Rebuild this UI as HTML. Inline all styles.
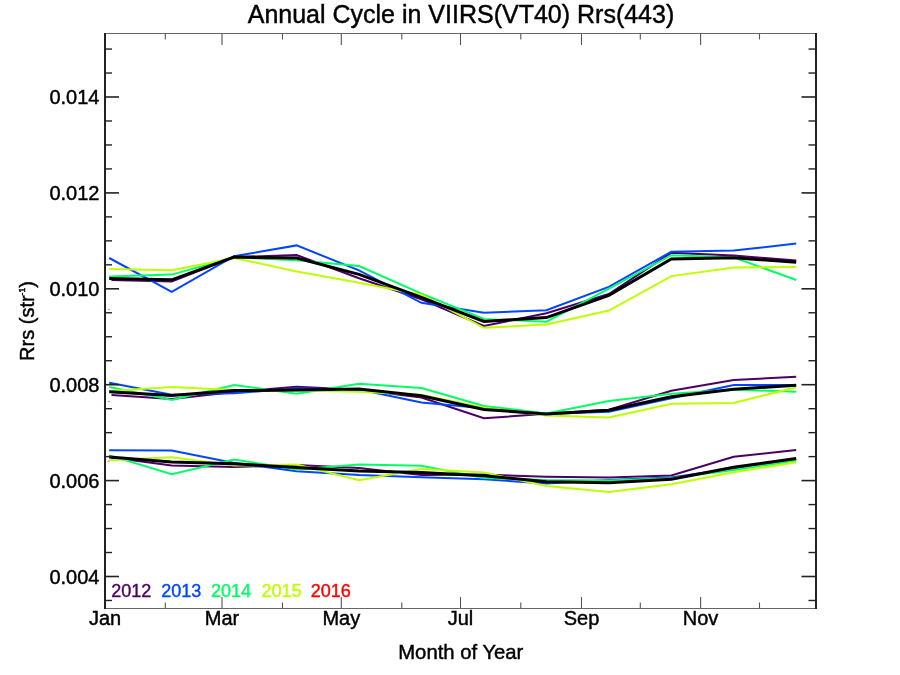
<!DOCTYPE html>
<html><head><meta charset="utf-8"><title>Annual Cycle in VIIRS(VT40) Rrs(443)</title>
<style>html,body{margin:0;padding:0;background:#fff;width:900px;height:675px;overflow:hidden}svg{display:block} text.k{filter:grayscale(1);stroke:#000;stroke-width:0.45px} text.c{filter:opacity(0.999);stroke-width:0.4px}</style>
</head><body>
<svg width="900" height="675" viewBox="0 0 900 675">
<rect width="900" height="675" fill="#fff"/>
<polyline points="111.5,280.0 171.7,281.6 234.1,257.0 296.6,255.1 359.0,278.3 421.4,299.3 483.9,326.0 546.4,313.3 608.8,294.0 671.3,252.8 733.7,255.6 796.2,260.4" fill="none" stroke="rgb(76,0,100)" stroke-width="2" stroke-linejoin="miter" stroke-linecap="butt"/>
<polyline points="109.2,258.0 171.7,291.8 234.1,256.2 296.6,245.4 359.0,270.4 421.4,302.8 483.9,312.8 546.4,310.2 608.8,286.9 671.3,251.7 733.7,250.6 796.2,243.6" fill="none" stroke="rgb(0,70,255)" stroke-width="2" stroke-linejoin="miter" stroke-linecap="butt"/>
<polyline points="109.2,276.5 171.7,274.6 234.1,257.3 296.6,260.3 359.0,266.0 421.4,293.6 483.9,319.0 546.4,321.7 608.8,288.6 671.3,255.2 733.7,257.4 796.2,280.0" fill="none" stroke="rgb(0,255,100)" stroke-width="2" stroke-linejoin="miter" stroke-linecap="butt"/>
<polyline points="109.2,268.9 171.7,270.3 234.1,258.0 296.6,271.5 359.0,282.7 421.4,294.8 483.9,327.8 546.4,324.4 608.8,310.6 671.3,276.1 733.7,267.4 796.2,266.9" fill="none" stroke="rgb(190,255,0)" stroke-width="2" stroke-linejoin="miter" stroke-linecap="butt"/>
<polyline points="109.2,278.6 171.7,279.8 234.1,257.1 296.6,258.0 359.0,274.4 421.4,297.3 483.9,321.4 546.4,317.6 608.8,295.4 671.3,258.9 733.7,257.8 796.2,262.2" fill="none" stroke="#000" stroke-width="3.0" stroke-linejoin="miter" stroke-linecap="butt"/>
<polyline points="111.5,395.0 171.7,399.0 234.1,392.0 296.6,386.7 359.0,389.7 421.4,397.6 483.9,418.3 546.4,413.7 608.8,409.8 671.3,390.8 733.7,380.0 796.2,376.8" fill="none" stroke="rgb(76,0,100)" stroke-width="2" stroke-linejoin="miter" stroke-linecap="butt"/>
<polyline points="109.2,382.8 171.7,394.7 234.1,393.2 296.6,388.3 359.0,389.5 421.4,402.4 483.9,408.3 546.4,414.0 608.8,411.8 671.3,398.3 733.7,385.0 796.2,385.0" fill="none" stroke="rgb(0,70,255)" stroke-width="2" stroke-linejoin="miter" stroke-linecap="butt"/>
<polyline points="109.2,387.0 171.7,400.0 234.1,385.0 296.6,393.8 359.0,383.7 421.4,388.0 483.9,405.9 546.4,413.4 608.8,401.1 671.3,393.7 733.7,389.7 796.2,391.7" fill="none" stroke="rgb(0,255,100)" stroke-width="2" stroke-linejoin="miter" stroke-linecap="butt"/>
<polyline points="109.2,391.0 171.7,386.9 234.1,390.0 296.6,390.6 359.0,391.7 421.4,394.7 483.9,407.7 546.4,415.4 608.8,417.6 671.3,403.7 733.7,403.0 796.2,387.2" fill="none" stroke="rgb(190,255,0)" stroke-width="2" stroke-linejoin="miter" stroke-linecap="butt"/>
<polyline points="109.2,391.7 171.7,395.4 234.1,390.6 296.6,390.0 359.0,389.0 421.4,395.8 483.9,409.4 546.4,414.1 608.8,410.2 671.3,396.7 733.7,389.2 796.2,385.2" fill="none" stroke="#000" stroke-width="3.0" stroke-linejoin="miter" stroke-linecap="butt"/>
<polyline points="111.5,457.5 171.7,465.6 234.1,467.1 296.6,465.0 359.0,467.9 421.4,475.1 483.9,474.6 546.4,476.7 608.8,477.6 671.3,475.5 733.7,456.7 796.2,450.0" fill="none" stroke="rgb(76,0,100)" stroke-width="2" stroke-linejoin="miter" stroke-linecap="butt"/>
<polyline points="109.2,450.2 171.7,450.5 234.1,463.0 296.6,471.2 359.0,475.0 421.4,477.3 483.9,479.2 546.4,483.6 608.8,480.0 671.3,477.5 733.7,468.3 796.2,459.6" fill="none" stroke="rgb(0,70,255)" stroke-width="2" stroke-linejoin="miter" stroke-linecap="butt"/>
<polyline points="109.2,455.4 171.7,474.1 234.1,459.6 296.6,469.4 359.0,464.6 421.4,465.8 483.9,477.9 546.4,480.0 608.8,480.6 671.3,478.3 733.7,470.0 796.2,460.4" fill="none" stroke="rgb(0,255,100)" stroke-width="2" stroke-linejoin="miter" stroke-linecap="butt"/>
<polyline points="109.2,460.2 171.7,457.2 234.1,465.6 296.6,464.6 359.0,480.3 421.4,469.1 483.9,472.6 546.4,486.0 608.8,491.9 671.3,484.2 733.7,472.2 796.2,462.2" fill="none" stroke="rgb(190,255,0)" stroke-width="2" stroke-linejoin="miter" stroke-linecap="butt"/>
<polyline points="109.2,456.9 171.7,461.9 234.1,463.8 296.6,467.4 359.0,471.0 421.4,472.4 483.9,475.7 546.4,481.7 608.8,482.8 671.3,479.2 733.7,467.2 796.2,458.4" fill="none" stroke="#000" stroke-width="3.0" stroke-linejoin="miter" stroke-linecap="butt"/>
<rect x="107.9" y="308.8" width="2" height="1.2" fill="rgb(255,120,120)"/>
<rect x="107.8" y="400.9" width="2" height="1.2" fill="rgb(255,120,120)"/>
<rect x="107.6" y="460.7" width="2" height="1.2" fill="rgb(255,120,120)"/>
<line x1="104" y1="600.48" x2="112" y2="600.48" stroke="#222" stroke-width="1.4"/>
<line x1="816.5" y1="600.48" x2="808.5" y2="600.48" stroke="#222" stroke-width="1.4"/>
<line x1="104" y1="576.50" x2="119" y2="576.50" stroke="#222" stroke-width="1.6"/>
<line x1="816.5" y1="576.50" x2="801.5" y2="576.50" stroke="#222" stroke-width="1.6"/>
<line x1="104" y1="552.52" x2="112" y2="552.52" stroke="#222" stroke-width="1.4"/>
<line x1="816.5" y1="552.52" x2="808.5" y2="552.52" stroke="#222" stroke-width="1.4"/>
<line x1="104" y1="528.55" x2="112" y2="528.55" stroke="#222" stroke-width="1.4"/>
<line x1="816.5" y1="528.55" x2="808.5" y2="528.55" stroke="#222" stroke-width="1.4"/>
<line x1="104" y1="504.58" x2="112" y2="504.58" stroke="#222" stroke-width="1.4"/>
<line x1="816.5" y1="504.58" x2="808.5" y2="504.58" stroke="#222" stroke-width="1.4"/>
<line x1="104" y1="480.60" x2="119" y2="480.60" stroke="#222" stroke-width="1.6"/>
<line x1="816.5" y1="480.60" x2="801.5" y2="480.60" stroke="#222" stroke-width="1.6"/>
<line x1="104" y1="456.62" x2="112" y2="456.62" stroke="#222" stroke-width="1.4"/>
<line x1="816.5" y1="456.62" x2="808.5" y2="456.62" stroke="#222" stroke-width="1.4"/>
<line x1="104" y1="432.65" x2="112" y2="432.65" stroke="#222" stroke-width="1.4"/>
<line x1="816.5" y1="432.65" x2="808.5" y2="432.65" stroke="#222" stroke-width="1.4"/>
<line x1="104" y1="408.68" x2="112" y2="408.68" stroke="#222" stroke-width="1.4"/>
<line x1="816.5" y1="408.68" x2="808.5" y2="408.68" stroke="#222" stroke-width="1.4"/>
<line x1="104" y1="384.70" x2="119" y2="384.70" stroke="#222" stroke-width="1.6"/>
<line x1="816.5" y1="384.70" x2="801.5" y2="384.70" stroke="#222" stroke-width="1.6"/>
<line x1="104" y1="360.73" x2="112" y2="360.73" stroke="#222" stroke-width="1.4"/>
<line x1="816.5" y1="360.73" x2="808.5" y2="360.73" stroke="#222" stroke-width="1.4"/>
<line x1="104" y1="336.75" x2="112" y2="336.75" stroke="#222" stroke-width="1.4"/>
<line x1="816.5" y1="336.75" x2="808.5" y2="336.75" stroke="#222" stroke-width="1.4"/>
<line x1="104" y1="312.77" x2="112" y2="312.77" stroke="#222" stroke-width="1.4"/>
<line x1="816.5" y1="312.77" x2="808.5" y2="312.77" stroke="#222" stroke-width="1.4"/>
<line x1="104" y1="288.80" x2="119" y2="288.80" stroke="#222" stroke-width="1.6"/>
<line x1="816.5" y1="288.80" x2="801.5" y2="288.80" stroke="#222" stroke-width="1.6"/>
<line x1="104" y1="264.82" x2="112" y2="264.82" stroke="#222" stroke-width="1.4"/>
<line x1="816.5" y1="264.82" x2="808.5" y2="264.82" stroke="#222" stroke-width="1.4"/>
<line x1="104" y1="240.85" x2="112" y2="240.85" stroke="#222" stroke-width="1.4"/>
<line x1="816.5" y1="240.85" x2="808.5" y2="240.85" stroke="#222" stroke-width="1.4"/>
<line x1="104" y1="216.88" x2="112" y2="216.88" stroke="#222" stroke-width="1.4"/>
<line x1="816.5" y1="216.88" x2="808.5" y2="216.88" stroke="#222" stroke-width="1.4"/>
<line x1="104" y1="192.90" x2="119" y2="192.90" stroke="#222" stroke-width="1.6"/>
<line x1="816.5" y1="192.90" x2="801.5" y2="192.90" stroke="#222" stroke-width="1.6"/>
<line x1="104" y1="168.92" x2="112" y2="168.92" stroke="#222" stroke-width="1.4"/>
<line x1="816.5" y1="168.92" x2="808.5" y2="168.92" stroke="#222" stroke-width="1.4"/>
<line x1="104" y1="144.95" x2="112" y2="144.95" stroke="#222" stroke-width="1.4"/>
<line x1="816.5" y1="144.95" x2="808.5" y2="144.95" stroke="#222" stroke-width="1.4"/>
<line x1="104" y1="120.97" x2="112" y2="120.97" stroke="#222" stroke-width="1.4"/>
<line x1="816.5" y1="120.97" x2="808.5" y2="120.97" stroke="#222" stroke-width="1.4"/>
<line x1="104" y1="97.00" x2="119" y2="97.00" stroke="#222" stroke-width="1.6"/>
<line x1="816.5" y1="97.00" x2="801.5" y2="97.00" stroke="#222" stroke-width="1.6"/>
<line x1="104" y1="73.03" x2="112" y2="73.03" stroke="#222" stroke-width="1.4"/>
<line x1="816.5" y1="73.03" x2="808.5" y2="73.03" stroke="#222" stroke-width="1.4"/>
<line x1="104" y1="49.05" x2="112" y2="49.05" stroke="#222" stroke-width="1.4"/>
<line x1="816.5" y1="49.05" x2="808.5" y2="49.05" stroke="#222" stroke-width="1.4"/>
<line x1="165.3" y1="33.5" x2="165.3" y2="39.5" stroke="#555" stroke-width="1.1"/>
<line x1="165.3" y1="608.5" x2="165.3" y2="602.5" stroke="#555" stroke-width="1.1"/>
<line x1="222" y1="33.5" x2="222" y2="45.0" stroke="#555" stroke-width="1.1"/>
<line x1="222" y1="608.5" x2="222" y2="597.0" stroke="#555" stroke-width="1.1"/>
<line x1="282.5" y1="33.5" x2="282.5" y2="39.5" stroke="#555" stroke-width="1.1"/>
<line x1="282.5" y1="608.5" x2="282.5" y2="602.5" stroke="#555" stroke-width="1.1"/>
<line x1="341.3" y1="33.5" x2="341.3" y2="45.0" stroke="#555" stroke-width="1.1"/>
<line x1="341.3" y1="608.5" x2="341.3" y2="597.0" stroke="#555" stroke-width="1.1"/>
<line x1="401.8" y1="33.5" x2="401.8" y2="39.5" stroke="#555" stroke-width="1.1"/>
<line x1="401.8" y1="608.5" x2="401.8" y2="602.5" stroke="#555" stroke-width="1.1"/>
<line x1="460.5" y1="33.5" x2="460.5" y2="45.0" stroke="#555" stroke-width="1.1"/>
<line x1="460.5" y1="608.5" x2="460.5" y2="597.0" stroke="#555" stroke-width="1.1"/>
<line x1="520.8" y1="33.5" x2="520.8" y2="39.5" stroke="#555" stroke-width="1.1"/>
<line x1="520.8" y1="608.5" x2="520.8" y2="602.5" stroke="#555" stroke-width="1.1"/>
<line x1="581.5" y1="33.5" x2="581.5" y2="45.0" stroke="#555" stroke-width="1.1"/>
<line x1="581.5" y1="608.5" x2="581.5" y2="597.0" stroke="#555" stroke-width="1.1"/>
<line x1="640.3" y1="33.5" x2="640.3" y2="39.5" stroke="#555" stroke-width="1.1"/>
<line x1="640.3" y1="608.5" x2="640.3" y2="602.5" stroke="#555" stroke-width="1.1"/>
<line x1="700.6" y1="33.5" x2="700.6" y2="45.0" stroke="#555" stroke-width="1.1"/>
<line x1="700.6" y1="608.5" x2="700.6" y2="597.0" stroke="#555" stroke-width="1.1"/>
<line x1="759.5" y1="33.5" x2="759.5" y2="39.5" stroke="#555" stroke-width="1.1"/>
<line x1="759.5" y1="608.5" x2="759.5" y2="602.5" stroke="#555" stroke-width="1.1"/>
<line x1="104" y1="33.5" x2="816.5" y2="33.5" stroke="#666" stroke-width="1.2"/>
<line x1="104" y1="608.5" x2="816.5" y2="608.5" stroke="#666" stroke-width="1.2"/>
<line x1="105" y1="33.0" x2="105" y2="609.0" stroke="#222" stroke-width="2"/>
<line x1="816.0" y1="33.0" x2="816.0" y2="609.0" stroke="#222" stroke-width="2"/>
<text class="k" x="461" y="23.3" font-size="25" text-anchor="middle" font-family="Liberation Sans, sans-serif">Annual Cycle in VIIRS(VT40) Rrs(443)</text>
<text class="k" x="99.5" y="583.5" font-size="20" text-anchor="end" font-family="Liberation Sans, sans-serif">0.004</text>
<text class="k" x="99.5" y="487.6" font-size="20" text-anchor="end" font-family="Liberation Sans, sans-serif">0.006</text>
<text class="k" x="99.5" y="391.7" font-size="20" text-anchor="end" font-family="Liberation Sans, sans-serif">0.008</text>
<text class="k" x="99.5" y="295.8" font-size="20" text-anchor="end" font-family="Liberation Sans, sans-serif">0.010</text>
<text class="k" x="99.5" y="199.9" font-size="20" text-anchor="end" font-family="Liberation Sans, sans-serif">0.012</text>
<text class="k" x="99.5" y="104.0" font-size="20" text-anchor="end" font-family="Liberation Sans, sans-serif">0.014</text>
<text class="k" x="105.0" y="625" font-size="20" text-anchor="middle" font-family="Liberation Sans, sans-serif">Jan</text>
<text class="k" x="222.0" y="625" font-size="20" text-anchor="middle" font-family="Liberation Sans, sans-serif">Mar</text>
<text class="k" x="341.3" y="625" font-size="20" text-anchor="middle" font-family="Liberation Sans, sans-serif">May</text>
<text class="k" x="460.5" y="625" font-size="20" text-anchor="middle" font-family="Liberation Sans, sans-serif">Jul</text>
<text class="k" x="581.5" y="625" font-size="20" text-anchor="middle" font-family="Liberation Sans, sans-serif">Sep</text>
<text class="k" x="700.6" y="625" font-size="20" text-anchor="middle" font-family="Liberation Sans, sans-serif">Nov</text>
<text class="k" x="460.8" y="658.8" font-size="20.3" text-anchor="middle" font-family="Liberation Sans, sans-serif">Month of Year</text>
<text class="k" transform="translate(34,321) rotate(-90)" x="0" y="0" font-size="20" text-anchor="middle" font-family="Liberation Sans, sans-serif">Rrs (str<tspan font-size="8.6" dy="-9">-1</tspan><tspan dy="9">)</tspan></text>
<text class="c" x="111.3" y="597" font-size="18" fill="rgb(76,0,100)" stroke="rgb(76,0,100)" font-family="Liberation Sans, sans-serif">2012</text>
<text class="c" x="161.2" y="597" font-size="18" fill="rgb(0,70,255)" stroke="rgb(0,70,255)" font-family="Liberation Sans, sans-serif">2013</text>
<text class="c" x="211.0" y="597" font-size="18" fill="rgb(0,255,100)" stroke="rgb(0,255,100)" font-family="Liberation Sans, sans-serif">2014</text>
<text class="c" x="261.5" y="597" font-size="18" fill="rgb(190,255,0)" stroke="rgb(190,255,0)" font-family="Liberation Sans, sans-serif">2015</text>
<text class="c" x="310.7" y="597" font-size="18" fill="rgb(255,0,0)" stroke="rgb(255,0,0)" font-family="Liberation Sans, sans-serif">2016</text>
</svg>
</body></html>
